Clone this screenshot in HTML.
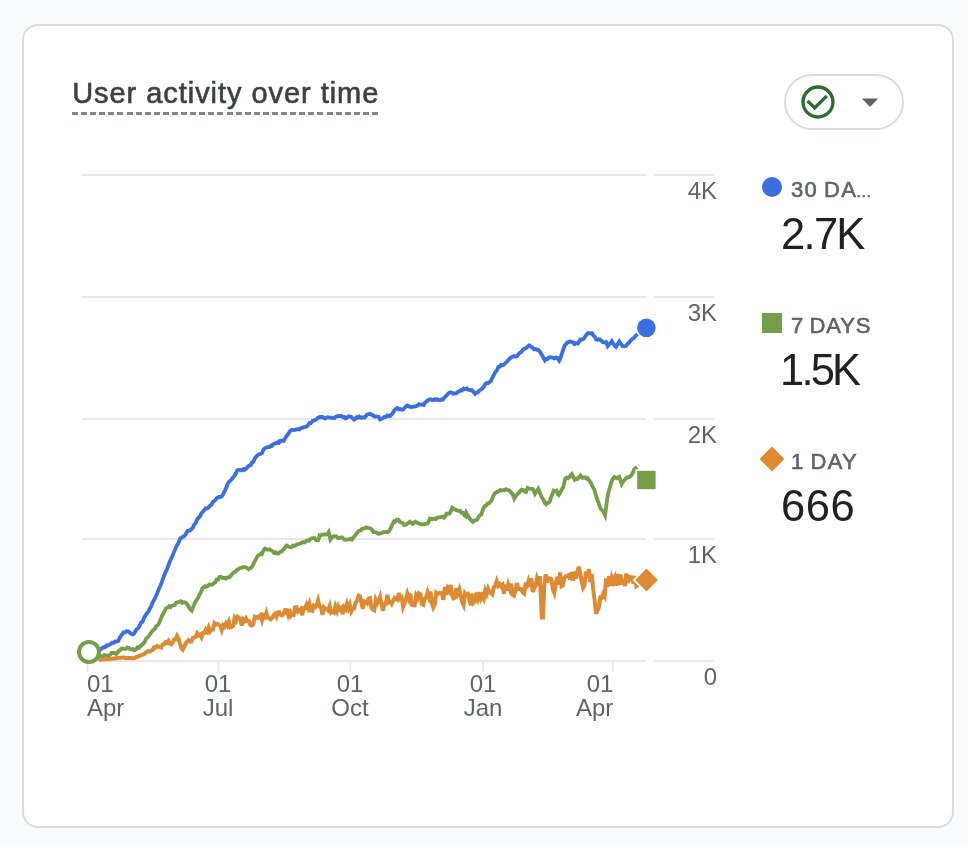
<!DOCTYPE html>
<html lang="en">
<head>
<meta charset="utf-8">
<title>User activity over time</title>
<style>
html,body{margin:0;padding:0;}
body{width:968px;height:846px;background:#f8f9fa;position:relative;overflow:hidden;font-family:"Liberation Sans",sans-serif;}
.card{position:absolute;left:22px;top:24px;width:932px;height:804px;box-sizing:border-box;border:2px solid #dadce0;border-radius:16px;background:#fff;}
.abs{position:absolute;white-space:nowrap;will-change:transform;}
.title{left:72px;top:75px;width:306px;height:40px;font-size:29px;line-height:37px;color:#3c4043;letter-spacing:0.95px;text-indent:0.2px;-webkit-text-stroke:0.6px #3c4043;background:repeating-linear-gradient(90deg,#80868b 0,#80868b 6px,transparent 6px,transparent 9.09px) left bottom/306px 3px no-repeat;}
.pill{left:784px;top:74px;width:120px;height:56px;box-sizing:border-box;border:2px solid #dadce0;border-radius:28px;background:#fff;}
.ylab{right:251px;width:60px;text-align:right;font-size:24px;line-height:24px;color:#5f6368;}
.xlab{font-size:24px;line-height:24px;color:#5f6368;top:672px;}
.xlab.c{text-align:center;width:80px;}
.leg{font-size:22px;line-height:24px;color:#5f6368;letter-spacing:1.3px;word-spacing:-1.5px;left:791px;-webkit-text-stroke:0.6px #5f6368;}
.leg .el{font-size:16px;letter-spacing:-0.5px;margin-left:-1.5px;}
.val{font-size:43.5px;line-height:48px;color:#202124;left:780.5px;}
svg{position:absolute;left:0;top:0;}
</style>
</head>
<body>
<div class="card"></div>
<div class="abs title">User activity over time</div>
<div class="abs pill"></div>

<svg width="968" height="846" viewBox="0 0 968 846">
  <!-- dropdown icons -->
  <g transform="translate(798,82) scale(1.6667)" fill="#2b6b30">
    <path d="M16.59 7.58L10 14.17l-3.59-3.58L5 12l5 5 8-8zM12 2C6.48 2 2 6.480 2 12s4.480 10 10 10 10-4.480 10-10S17.520 2 12 2zm0 18c-4.410 0-8-3.590-8-8s3.590-8 8-8 8 3.590 8 8-3.590 8-8 8z"/>
  </g>
  <path d="M861.8 98.600h16.4l-8.200 8.300z" fill="#5f6368"/>

  <!-- grid -->
  <g fill="#e8e8e8">
    <rect x="82" y="174" width="564" height="2"/><rect x="654" y="174" width="60" height="2"/>
    <rect x="82" y="296" width="564" height="2"/><rect x="654" y="296" width="60" height="2"/>
    <rect x="82" y="418" width="564" height="2"/><rect x="654" y="418" width="60" height="2"/>
    <rect x="82" y="538" width="564" height="2"/><rect x="654" y="538" width="60" height="2"/>
    <rect x="82" y="660" width="564" height="2"/><rect x="654" y="660" width="60" height="2"/>
    <rect x="86.5" y="661" width="2" height="10.800"/>
    <rect x="217.4" y="661" width="2" height="10.800"/>
    <rect x="349.3" y="661" width="2" height="10.800"/>
    <rect x="482" y="661" width="2" height="10.800"/>
    <rect x="611.7" y="661" width="2" height="10.800"/>
  </g>

  <!-- series -->
  <polyline fill="none" stroke="#3a6fe0" stroke-width="3.8" stroke-linejoin="miter" stroke-miterlimit="6" points="89.0,652.0 100.7,649.3 102.1,648.2 103.6,647.1 105.0,647.2 106.5,645.4 107.9,645.5 109.0,644.8 110.8,643.8 112.2,642.7 113.7,642.9 115.1,641.5 116.5,641.6 118.3,641.0 119.4,638.3 120.9,635.9 122.3,634.1 123.4,632.4 125.2,632.4 126.5,631.3 128.1,631.4 129.5,632.3 130.9,633.7 132.7,634.4 133.8,633.8 135.3,631.3 136.7,629.1 138.1,628.3 140.0,625.1 141.0,622.6 142.5,621.8 143.9,618.4 145.3,615.8 146.8,613.5 148.3,611.7 149.7,608.6 151.1,606.7 152.5,602.6 154.5,599.3 155.4,597.3 156.9,594.1 158.3,590.3 159.7,587.3 161.7,582.7 162.6,579.5 164.1,575.8 165.5,572.4 166.9,569.5 168.9,564.1 169.8,561.8 171.3,558.2 172.7,555.4 174.1,551.8 175.1,549.6 177.0,545.1 178.5,542.8 180.3,538.3 181.3,538.1 182.8,536.6 184.4,536.2 185.7,534.2 187.5,531.0 188.5,530.6 190.0,530.5 191.7,529.0 192.9,527.5 194.3,524.3 195.7,523.1 197.2,519.1 197.9,518.6 198.6,517.5 200.1,516.2 201.5,513.2 202.9,511.8 204.1,510.3 205.8,508.2 207.3,508.3 208.7,507.4 209.3,506.5 210.1,505.7 211.6,504.5 213.0,501.9 214.5,500.9 215.9,499.1 216.5,498.2 217.3,497.9 218.8,497.0 220.2,497.0 221.7,496.5 222.8,495.1 224.5,491.3 226.0,488.5 227.4,484.3 229.0,481.7 230.3,480.7 231.7,479.2 233.1,477.5 234.6,475.7 236.1,472.9 237.2,470.3 238.9,469.8 240.4,469.9 241.8,470.4 243.3,469.1 244.5,469.9 246.1,468.6 247.6,466.9 249.0,465.7 250.7,465.1 251.9,462.6 253.3,461.8 254.8,458.6 256.2,456.7 257.9,454.8 259.1,454.2 261.0,453.8 262.0,453.1 263.4,449.7 265.2,448.0 266.3,447.5 267.7,447.1 269.2,447.1 270.6,446.4 271.4,445.5 272.1,445.8 273.5,444.0 274.9,443.5 276.4,442.7 277.8,442.9 278.6,441.8 279.3,442.5 280.7,440.8 282.1,440.6 283.8,440.9 285.0,438.5 286.5,436.2 287.9,434.3 289.3,432.2 290.0,431.0 290.8,430.4 292.2,429.7 293.7,430.1 295.1,430.0 296.5,429.3 298.0,429.1 299.4,429.4 301.3,427.9 302.3,427.9 303.7,427.1 305.2,426.8 306.6,426.4 307.5,425.8 309.5,423.0 310.9,423.1 312.7,420.7 313.8,420.6 315.3,420.0 316.7,419.2 318.1,417.7 320.0,416.9 321.0,417.0 322.5,417.0 324.1,418.2 325.3,418.4 326.8,417.4 328.2,417.4 329.7,417.7 331.1,417.6 332.5,417.9 334.4,418.2 335.4,417.0 336.9,416.3 338.3,416.0 339.6,416.1 341.2,416.0 342.6,417.1 344.1,417.0 344.8,418.2 345.5,418.6 346.9,417.7 348.4,416.4 350.0,416.5 351.3,417.0 352.7,418.3 354.1,419.6 355.6,418.5 357.0,417.2 358.5,417.6 359.3,416.5 361.3,417.8 362.8,417.2 364.4,417.6 365.7,416.5 367.1,414.5 368.6,414.0 370.0,413.8 371.4,414.7 372.9,415.1 374.3,416.6 375.8,416.5 377.2,416.6 378.6,417.0 380.1,419.4 381.0,419.0 382.9,418.2 384.4,416.9 385.8,417.0 386.6,416.6 387.3,415.5 388.7,415.8 390.1,416.0 390.8,414.9 391.6,414.7 393.0,412.7 394.5,410.2 395.9,408.8 396.5,408.3 397.3,407.9 398.8,409.2 400.2,409.0 401.7,409.7 403.2,409.5 404.5,407.9 406.0,406.3 407.3,405.5 408.9,406.4 410.3,406.9 411.7,407.0 413.1,406.6 414.6,406.7 416.1,406.2 417.5,405.6 418.9,404.2 419.7,404.5 420.4,404.6 421.8,404.5 423.8,405.0 424.7,403.2 426.1,401.7 427.6,400.6 428.8,399.7 430.5,399.2 431.9,399.9 433.3,400.2 434.8,399.2 436.2,400.0 437.1,399.2 439.1,400.2 440.5,400.2 442.0,399.2 442.9,399.5 444.9,397.1 446.3,395.7 447.7,394.2 449.2,392.8 450.3,392.2 452.1,392.8 453.5,393.7 455.3,393.4 456.4,393.4 457.8,391.9 459.3,391.4 461.1,390.1 462.1,390.3 463.6,388.6 465.0,389.2 466.9,388.4 467.9,389.5 469.3,389.8 470.8,390.2 471.8,390.1 473.7,392.2 475.1,393.9 476.5,392.3 478.0,392.3 479.4,390.4 480.9,389.6 482.3,388.4 483.7,387.0 485.2,384.2 485.9,383.5 486.6,383.0 488.1,383.2 489.5,382.1 490.9,381.0 492.4,377.6 493.8,374.8 495.3,372.1 496.7,370.7 498.3,366.9 499.6,366.7 501.0,364.8 502.5,365.2 503.9,364.7 505.7,362.8 506.8,362.0 508.2,360.0 509.7,358.9 510.7,357.8 512.5,356.7 514.0,356.1 515.7,356.5 516.9,356.3 518.3,354.3 519.7,352.8 521.2,352.2 523.1,349.6 524.1,348.8 525.5,348.5 526.9,347.4 528.9,345.4 529.8,345.6 531.3,346.8 532.7,348.0 534.1,349.4 535.6,349.0 537.0,349.7 538.2,349.6 539.9,351.6 541.5,354.4 542.8,356.5 544.8,360.2 545.7,359.0 547.1,359.4 549.0,357.4 550.0,357.2 551.4,357.4 552.9,357.7 554.3,358.3 555.7,357.5 557.2,357.7 559.2,360.7 560.1,359.2 561.5,354.6 562.2,352.7 562.9,350.6 564.7,345.3 565.8,344.5 567.3,342.4 568.7,342.1 569.6,341.5 571.6,341.9 573.0,342.3 573.8,343.6 574.5,344.1 575.9,343.0 577.9,343.6 578.8,342.1 580.4,339.5 581.7,339.6 583.7,338.7 584.5,337.7 586.0,335.3 587.8,333.2 588.9,333.2 590.3,333.3 592.0,333.2 593.2,335.5 594.6,336.5 596.1,339.5 597.5,339.7 598.9,339.3 600.2,339.8 601.8,340.8 602.7,342.0 604.7,342.5 606.0,342.0 607.7,346.1 609.0,344.5 610.5,342.8 611.8,341.1 613.3,343.7 614.8,346.0 616.0,346.9 617.7,344.1 619.3,341.5 620.5,343.4 622.0,345.2 622.6,346.1 623.4,346.1 624.9,346.4 625.9,346.1 627.7,343.9 629.2,342.4 630.9,340.3 632.1,339.1 633.5,338.5 634.9,336.6 635.8,335.4 638.3,334.2 646.4,327.8"/>
  <polyline fill="none" stroke="#759e48" stroke-width="3.8" stroke-linejoin="miter" stroke-miterlimit="6" points="89.0,652.0 100.0,655.8 101.4,656.4 102.9,656.5 104.3,655.2 105.8,655.7 106.9,655.5 108.6,655.6 110.1,654.8 111.5,653.0 113.1,653.0 114.4,652.7 116.2,654.0 117.3,652.9 118.7,651.0 120.2,650.0 121.6,648.4 122.4,648.5 123.0,648.7 124.5,648.8 125.9,648.9 127.4,647.4 128.6,647.9 130.2,649.0 131.7,649.4 133.1,649.1 133.8,650.0 134.6,650.2 136.0,649.6 137.4,647.4 138.9,647.9 140.3,646.0 141.0,645.8 141.8,644.8 143.2,643.9 144.6,641.8 146.1,638.7 147.5,637.4 148.3,636.5 149.0,635.7 150.4,633.7 151.8,631.7 153.3,630.2 154.7,629.2 156.2,626.2 157.6,625.4 158.6,624.1 160.5,619.9 161.9,616.1 163.4,613.5 164.8,611.0 165.8,608.6 167.7,607.7 169.1,606.2 170.6,607.1 172.0,605.5 173.4,605.3 174.9,604.9 176.3,602.6 177.8,602.2 179.3,601.8 180.6,601.3 182.1,602.9 183.5,602.3 185.0,602.4 186.5,603.4 187.8,605.1 189.3,608.0 190.7,609.9 191.7,610.7 193.6,606.1 195.0,602.7 196.9,599.3 197.9,598.2 199.4,594.9 200.8,592.5 202.2,588.7 203.1,587.9 205.1,586.2 206.6,586.7 208.0,585.7 209.4,584.4 210.3,584.8 212.3,584.6 213.8,583.3 214.4,582.7 215.2,582.4 216.6,579.7 218.1,579.7 219.5,576.8 220.6,576.5 222.4,577.9 223.8,577.7 225.8,578.6 226.7,577.8 228.2,577.3 229.6,577.1 231.0,575.5 232.5,573.8 233.9,572.3 235.4,571.8 236.8,570.0 238.2,569.3 239.7,568.2 241.1,567.9 242.6,567.2 244.0,567.1 245.5,567.2 246.9,567.8 248.6,569.3 249.8,568.2 251.7,567.2 252.6,565.9 254.1,562.4 255.5,560.2 257.0,556.9 257.9,555.8 259.8,554.6 261.3,553.3 262.0,553.8 262.7,552.1 264.2,549.3 265.1,548.6 267.0,549.6 268.5,549.7 269.9,549.5 270.8,550.3 272.8,551.4 274.2,553.0 275.7,552.4 276.6,553.6 278.6,553.4 280.0,552.0 281.6,551.5 282.9,549.9 284.3,548.7 285.8,546.1 286.5,545.4 287.2,545.7 288.6,546.7 289.9,547.0 291.5,547.3 293.0,545.6 294.4,545.9 295.8,545.1 297.3,544.2 298.7,544.1 300.2,543.4 301.6,542.9 303.0,542.1 304.7,542.5 305.9,541.2 307.4,540.3 308.8,540.8 310.2,539.2 311.7,538.3 313.0,538.2 314.6,538.1 316.0,540.1 318.0,540.4 318.9,538.3 319.6,535.4 320.3,535.6 321.8,534.8 323.2,534.6 324.6,534.5 326.1,534.6 327.1,534.6 328.7,532.1 330.4,539.6 331.8,537.5 333.7,536.3 334.7,536.4 336.2,536.3 337.6,537.8 339.0,538.1 340.5,537.6 341.9,537.3 342.8,537.9 344.8,539.8 346.1,539.6 347.7,539.3 349.1,539.3 350.6,538.7 351.9,539.6 353.4,537.4 354.9,535.7 356.3,533.9 357.7,532.1 359.2,530.7 360.6,530.5 362.1,528.8 363.5,528.5 365.1,528.0 366.4,527.3 367.8,527.8 369.3,528.0 370.7,528.6 372.2,530.0 373.4,532.1 375.0,532.2 376.5,532.5 377.9,533.6 379.2,533.8 380.8,533.2 382.2,533.0 383.3,532.1 385.1,532.1 386.6,532.0 388.0,532.1 389.1,531.3 390.9,527.6 392.3,524.6 394.1,521.4 395.2,521.8 396.6,519.7 398.2,519.7 399.5,521.3 401.0,522.5 402.4,522.7 404.0,525.0 405.3,524.9 406.7,524.2 408.2,522.9 409.8,521.7 411.0,522.9 412.5,524.0 413.1,523.8 413.9,522.5 415.6,521.7 416.8,522.4 418.2,523.1 419.7,523.8 421.1,524.4 422.6,524.3 424.0,524.3 425.4,523.8 427.4,523.6 428.3,522.5 429.9,518.6 431.2,519.0 432.6,519.2 434.1,518.5 435.7,519.1 437.0,517.8 438.4,517.4 439.8,517.3 441.5,516.9 442.7,516.6 444.0,517.8 445.6,515.7 446.5,513.6 448.5,513.7 449.5,513.6 451.4,510.0 452.3,507.8 454.2,509.0 455.7,509.9 457.1,510.3 458.1,510.8 460.0,510.7 461.4,512.7 463.0,512.8 464.3,515.0 465.5,516.1 466.3,512.8 467.2,514.4 468.6,517.0 469.6,518.6 471.5,520.8 472.9,521.9 474.4,520.4 476.3,520.2 477.3,519.5 478.7,516.9 480.2,514.9 481.2,514.5 483.0,509.5 484.5,506.2 485.9,505.6 487.4,503.6 488.8,503.5 490.3,502.0 491.7,500.2 493.1,496.5 494.5,493.8 496.0,492.6 497.4,491.8 498.9,491.2 500.2,490.0 501.8,490.5 503.2,490.2 504.6,490.3 506.1,489.2 507.7,490.0 509.0,490.3 510.4,491.6 511.8,493.6 512.7,493.8 514.3,498.7 516.2,495.6 517.6,493.8 519.0,492.8 520.5,490.7 521.9,489.7 522.6,490.0 523.4,490.1 524.8,491.7 525.9,492.1 527.5,488.0 529.1,488.6 530.6,488.8 532.5,488.8 533.4,490.3 535.0,493.8 536.3,491.8 538.3,488.8 539.2,491.0 540.6,494.6 541.6,497.1 543.5,499.6 545.0,503.3 545.8,504.0 546.4,503.0 547.8,503.3 549.3,502.1 550.1,500.7 550.7,498.1 552.2,494.8 553.7,490.6 555.0,491.2 556.6,490.6 557.9,494.1 558.8,495.0 560.8,491.5 562.2,488.7 563.1,487.7 565.3,478.3 566.6,477.4 568.0,478.2 569.6,476.9 570.9,474.7 571.8,474.0 573.8,478.1 574.7,479.8 576.6,478.6 577.6,479.0 579.5,476.7 580.5,475.4 582.4,477.9 583.4,477.9 585.3,477.4 586.7,478.8 587.7,478.3 589.6,481.0 591.3,483.4 592.5,486.5 594.2,489.2 595.4,493.6 597.1,499.3 598.2,502.0 600.0,507.3 601.1,509.4 602.9,510.9 604.0,513.1 605.1,515.3 607.3,497.9 608.3,492.8 609.4,489.2 611.2,482.5 612.3,479.8 614.5,476.9 615.5,477.5 616.7,478.3 618.4,477.3 619.3,476.9 621.7,484.1 622.7,482.4 624.2,480.2 626.1,478.3 627.0,477.7 628.5,477.0 629.7,476.9 631.4,475.2 633.3,471.8 634.2,469.4 635.5,468.2 646.4,480.0"/>
  <polyline fill="none" stroke="#dd8a32" stroke-width="4" stroke-linejoin="miter" stroke-miterlimit="4" points="89.0,652.0 100.7,659.8 102.1,659.4 103.6,659.5 105.0,659.2 106.5,659.3 107.9,659.0 109.3,659.0 110.8,658.7 112.2,658.7 113.7,658.4 115.1,658.5 116.5,658.1 118.0,658.1 119.4,657.7 120.9,657.8 122.3,657.5 123.7,657.6 125.2,657.9 126.6,658.0 128.1,657.8 129.5,658.1 130.9,658.1 132.4,658.2 133.8,658.3 135.3,657.8 136.7,656.9 138.1,656.7 139.6,655.7 141.0,655.3 142.5,654.6 143.9,654.4 145.3,652.9 146.8,652.1 148.2,651.0 149.7,651.6 151.1,650.6 152.5,650.3 154.0,647.4 155.4,647.7 156.9,646.1 158.3,646.8 159.7,647.1 161.2,647.5 162.6,644.3 164.1,644.2 165.5,642.1 166.9,642.8 168.4,641.0 169.8,643.8 171.3,644.5 172.7,642.6 174.1,639.4 175.6,639.2 177.0,635.9 178.5,638.6 179.9,643.3 181.3,647.9 182.8,649.6 184.2,646.6 185.7,643.4 187.1,642.0 188.5,640.2 190.0,641.6 191.4,641.4 192.9,637.8 194.3,637.6 195.7,636.9 197.2,633.3 198.6,635.4 200.1,634.5 201.5,637.2 202.9,633.0 204.4,632.8 205.8,629.5 207.3,631.5 208.7,627.5 210.1,631.5 211.6,629.6 213.0,629.5 214.5,623.3 215.9,624.6 217.3,624.0 218.8,624.9 220.2,625.7 221.7,630.1 223.1,625.5 224.5,626.8 226.0,623.3 227.4,625.6 228.9,621.8 230.3,627.4 231.7,627.2 233.2,625.9 234.6,618.1 236.1,620.6 237.5,616.7 238.9,617.6 240.4,619.0 241.8,625.6 243.3,619.4 244.7,620.8 246.1,618.4 247.6,621.0 249.0,621.1 250.5,625.1 251.9,625.5 253.3,624.3 254.8,616.6 256.2,616.8 257.7,617.9 259.1,616.5 260.5,615.2 262.0,620.3 263.4,615.5 264.9,616.8 266.3,612.7 267.7,617.6 269.2,618.0 270.6,619.3 272.1,617.9 273.5,615.5 274.9,613.9 276.4,616.7 277.8,612.5 279.3,612.2 280.7,614.9 282.1,615.4 283.6,613.7 285.0,610.1 286.5,610.2 287.9,614.4 289.3,609.0 290.8,615.7 292.2,614.1 293.7,614.7 295.1,607.3 296.5,607.2 298.0,611.7 299.4,610.7 300.9,609.1 302.3,615.2 303.7,608.2 305.2,608.1 306.6,604.6 308.1,608.1 309.5,603.9 310.9,610.4 312.4,610.8 313.8,605.7 315.3,606.9 316.7,605.3 318.1,600.4 319.6,606.6 321.0,607.3 322.5,614.8 323.9,607.4 325.3,608.9 326.8,608.8 328.2,610.3 329.7,606.0 331.1,612.5 332.5,611.4 334.0,612.5 335.4,606.6 336.9,610.9 338.3,606.3 339.7,609.4 341.2,608.0 342.6,614.1 344.1,607.4 345.5,609.3 346.9,604.0 348.4,608.3 349.8,604.6 351.3,611.3 352.7,608.7 354.1,608.3 355.6,602.5 357.0,601.0 358.5,595.8 359.9,596.3 361.3,601.8 362.8,608.9 364.2,601.3 365.7,601.8 367.1,603.1 368.5,598.8 370.0,598.1 371.4,607.7 372.9,609.6 374.3,610.3 375.7,599.9 377.2,603.2 378.6,600.6 380.1,596.8 381.5,604.3 382.9,610.6 384.4,604.1 385.8,603.9 387.3,594.9 388.7,602.4 390.1,601.9 391.6,604.0 393.0,600.9 394.5,598.0 395.9,599.0 397.3,599.7 398.8,593.1 400.2,598.5 401.7,597.4 403.1,606.8 404.5,603.2 406.0,599.0 407.4,593.6 408.9,598.3 410.3,593.7 411.7,604.6 413.2,605.2 414.6,605.3 416.1,595.6 417.5,598.1 418.9,593.3 420.4,594.4 421.8,604.0 423.3,604.8 424.7,598.5 426.1,597.9 427.6,592.4 429.0,597.0 430.5,591.4 431.9,602.8 433.3,607.3 434.8,604.3 436.2,592.8 437.7,594.2 439.1,593.2 440.5,592.7 442.0,593.7 443.4,599.7 444.9,587.0 446.3,594.8 447.7,588.4 449.2,590.9 450.6,585.0 452.1,594.9 453.5,598.3 454.9,597.7 456.4,588.1 457.8,593.1 459.3,589.1 460.7,595.3 462.1,601.6 463.6,604.9 465.0,593.4 466.5,595.4 467.9,594.3 469.3,599.5 470.8,593.8 472.2,605.6 473.7,597.5 475.1,599.6 476.5,592.6 478.0,597.9 479.4,592.3 480.9,598.6 482.3,595.8 483.7,598.7 485.2,590.7 486.6,594.1 488.1,589.0 489.5,592.6 490.9,592.9 492.4,594.2 493.8,587.3 495.3,585.8 496.7,581.4 498.1,585.8 499.6,584.1 501.0,586.4 502.5,584.9 503.9,593.7 505.3,584.5 506.8,590.5 508.2,584.4 509.7,588.8 511.1,583.6 512.5,595.0 514.0,595.8 515.4,591.1 516.9,583.2 518.3,588.8 519.7,588.7 521.2,589.0 522.6,592.1 524.1,593.5 525.5,585.1 526.9,586.0 528.4,581.1 529.8,586.7 531.3,578.2 532.7,591.9 534.1,588.5 535.6,585.6 537.0,578.1 538.5,581.8 539.9,576.3 541.8,617.4 543.0,617.4 544.2,586.8 545.7,574.3 547.1,582.5 548.5,578.3 550.0,578.5 551.4,579.3 552.9,589.2 554.3,592.9 555.7,584.3 557.2,576.8 558.6,584.7 560.1,572.5 561.5,586.2 562.9,585.4 564.4,577.9 565.8,576.4 567.3,575.6 568.7,575.1 570.1,579.7 571.6,572.2 573.0,580.6 574.5,571.5 575.9,578.7 577.3,572.0 578.8,566.7 580.2,573.0 581.7,581.8 583.1,587.6 584.5,585.1 586.0,571.5 587.4,577.2 588.9,569.0 590.3,582.0 591.7,574.0 593.2,589.3 594.6,600.1 596.1,613.9 597.5,610.1 598.9,607.3 600.4,597.5 601.8,597.6 603.3,593.5 604.7,596.1 606.1,578.3 607.6,586.8 609.0,576.3 610.5,585.7 611.9,577.9 613.3,581.9 614.8,577.9 616.2,585.7 617.7,573.9 619.1,585.3 620.5,574.5 622.0,584.4 623.4,579.2 624.9,586.0 626.3,573.5 627.7,583.2 629.2,575.1 630.6,581.3 632.1,575.8 633.5,583.6 634.9,576.1 636.4,586.2 646.5,580.0"/>

  <!-- markers -->
  <path d="M646.5 568.600L657.900 580L646.500 591.400L635.100 580z" fill="#dd8a32" stroke="#fff" stroke-width="3.4" paint-order="stroke"/>
  <rect x="637.200" y="470.800" width="18.400" height="18.400" fill="#759e48" stroke="#fff" stroke-width="3.4" paint-order="stroke"/>
  <circle cx="646.400" cy="327.800" r="9.300" fill="#3a6fe0" stroke="#fff" stroke-width="3.4" paint-order="stroke"/>
  <circle cx="89" cy="652" r="10" fill="#fff" stroke="#759e48" stroke-width="4"/>

  <!-- legend markers -->
  <circle cx="772" cy="187" r="10" fill="#3a6fe0"/>
  <rect x="762" y="313" width="20" height="20" fill="#759e48"/>
  <path d="M772 446.600L784.400 459L772 471.400L759.600 459z" fill="#dd8a32"/>
</svg>

<!-- y labels -->
<div class="abs ylab" style="top:179px">4K</div>
<div class="abs ylab" style="top:301px">3K</div>
<div class="abs ylab" style="top:423px">2K</div>
<div class="abs ylab" style="top:543px">1K</div>
<div class="abs ylab" style="top:665px">0</div>

<!-- x labels -->
<div class="abs xlab" style="left:87px">01<br>Apr</div>
<div class="abs xlab c" style="left:178px">01<br>Jul</div>
<div class="abs xlab c" style="left:310px">01<br>Oct</div>
<div class="abs xlab c" style="left:443px">01<br>Jan</div>
<div class="abs xlab" style="right:355px;text-align:right">01<br>Apr</div>

<!-- legend -->
<div class="abs leg" style="top:177.500px">30 DA<span class="el">…</span></div>
<div class="abs val" style="top:210px;letter-spacing:-1.7px">2.7K</div>
<div class="abs leg" style="top:313.500px;letter-spacing:0.85px">7 DAYS</div>
<div class="abs val" style="top:346px;letter-spacing:-2.8px;left:780px">1.5K</div>
<div class="abs leg" style="top:449.500px">1 DAY</div>
<div class="abs val" style="top:482px;letter-spacing:0.5px;left:780.5px">666</div>
</body>
</html>
